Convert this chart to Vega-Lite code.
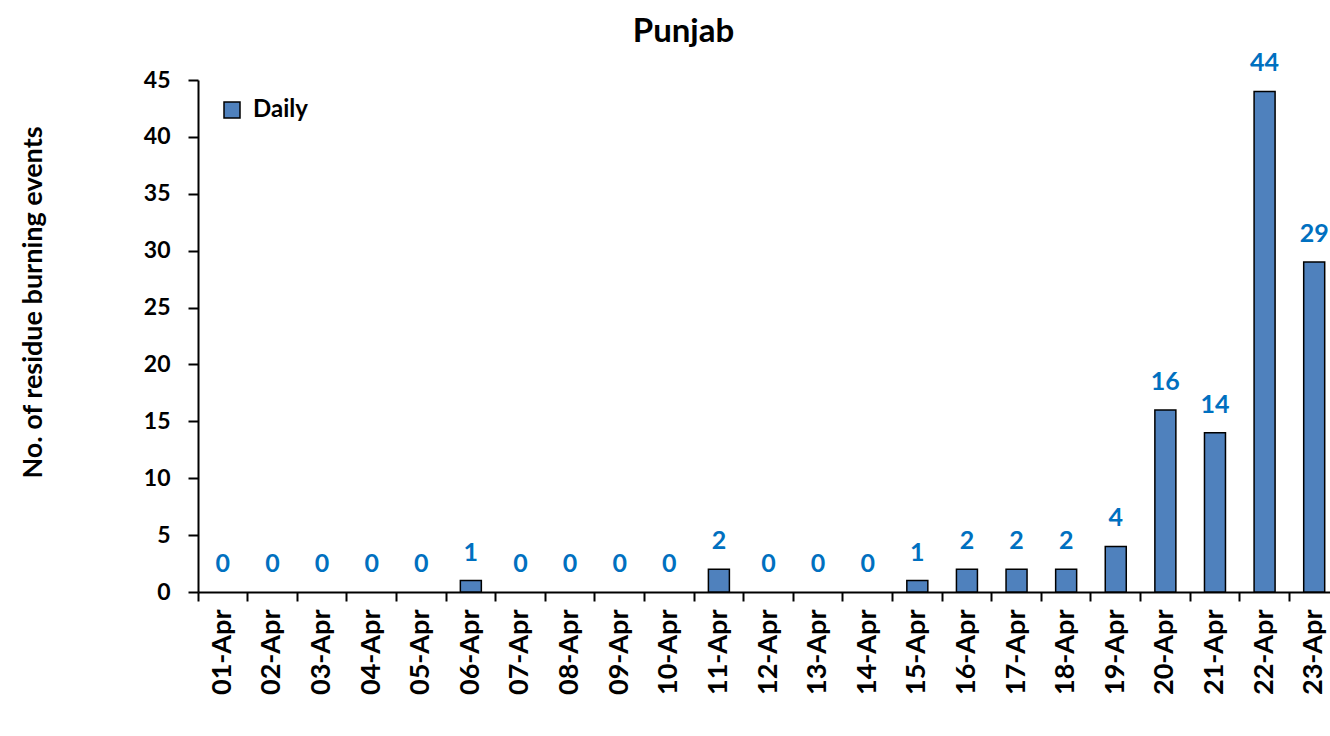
{
  "$schema": "https://vega.github.io/schema/vega-lite/v6.json",
  "autosize": "none",
  "width": 1141,
  "height": 512,
  "padding": {"left": 198, "top": 80, "right": 0, "bottom": 144},
  "background": "white",
  "title": {"text": "Punjab", "font": "Lato", "fontSize": 33, "fontWeight": "bold", "color": "black", "anchor": "middle", "frame": "group", "dx": -85, "offset": 2},
  "data": {"values": [
    {"date": "01-Apr", "count": 0, "series": "Daily"},
    {"date": "02-Apr", "count": 0, "series": "Daily"},
    {"date": "03-Apr", "count": 0, "series": "Daily"},
    {"date": "04-Apr", "count": 0, "series": "Daily"},
    {"date": "05-Apr", "count": 0, "series": "Daily"},
    {"date": "06-Apr", "count": 1, "series": "Daily"},
    {"date": "07-Apr", "count": 0, "series": "Daily"},
    {"date": "08-Apr", "count": 0, "series": "Daily"},
    {"date": "09-Apr", "count": 0, "series": "Daily"},
    {"date": "10-Apr", "count": 0, "series": "Daily"},
    {"date": "11-Apr", "count": 2, "series": "Daily"},
    {"date": "12-Apr", "count": 0, "series": "Daily"},
    {"date": "13-Apr", "count": 0, "series": "Daily"},
    {"date": "14-Apr", "count": 0, "series": "Daily"},
    {"date": "15-Apr", "count": 1, "series": "Daily"},
    {"date": "16-Apr", "count": 2, "series": "Daily"},
    {"date": "17-Apr", "count": 2, "series": "Daily"},
    {"date": "18-Apr", "count": 2, "series": "Daily"},
    {"date": "19-Apr", "count": 4, "series": "Daily"},
    {"date": "20-Apr", "count": 16, "series": "Daily"},
    {"date": "21-Apr", "count": 14, "series": "Daily"},
    {"date": "22-Apr", "count": 44, "series": "Daily"},
    {"date": "23-Apr", "count": 29, "series": "Daily"}
  ]},
  "encoding": {
    "x": {"field": "date", "type": "nominal", "sort": null,
      "scale": {"paddingInner": 0, "paddingOuter": 0},
      "axis": {"title": null, "labelAngle": -90, "labelFont": "Lato", "labelFontSize": 27, "labelFontWeight": "bold", "labelColor": "black",
        "domainColor": "black", "domainWidth": 2, "tickColor": "black", "tickWidth": 2, "tickSize": 9, "bandPosition": 0, "labelPadding": 8, "grid": false}},
    "y": {"field": "count", "type": "quantitative",
      "scale": {"domain": [0, 45], "nice": false},
      "axis": {"title": "No. of residue burning events", "values": [0, 5, 10, 15, 20, 25, 30, 35, 40, 45],
        "titleFont": "Lato", "titleFontSize": 27, "titleFontWeight": "bold", "titleColor": "black",
        "titleX": -165, "titleY": 222, "titleAngle": -90, "titleBaseline": "middle", "titleAlign": "center",
        "labelFont": "Lato", "labelFontSize": 23, "labelFontWeight": "bold", "labelColor": "black", "labelPadding": 18,
        "domainColor": "black", "domainWidth": 2, "tickColor": "black", "tickWidth": 2, "tickSize": 10, "grid": false}}
  },
  "layer": [
    {"mark": {"type": "bar", "size": 21, "stroke": "black", "strokeWidth": 1.5},
      "encoding": {
        "strokeOpacity": {"condition": {"test": "datum.count === 0", "value": 0}, "value": 1},
        "color": {"field": "series", "type": "nominal", "scale": {"range": ["#4F81BD"]},
        "legend": {"title": null, "orient": "none", "legendX": 22, "legendY": 18, "symbolType": "square", "symbolSize": 256,
          "symbolStrokeColor": "black", "symbolStrokeWidth": 1.5, "labelFont": "Lato", "labelFontSize": 24, "labelFontWeight": "bold", "labelColor": "black", "labelOffset": 9}}}},
    {"mark": {"type": "text", "font": "Lato", "fontSize": 25, "fontWeight": "bold", "color": "#0070C0", "baseline": "alphabetic", "dy": -20},
      "encoding": {"text": {"field": "count", "type": "quantitative"}}}
  ],
  "config": {"view": {"stroke": null}}
}
